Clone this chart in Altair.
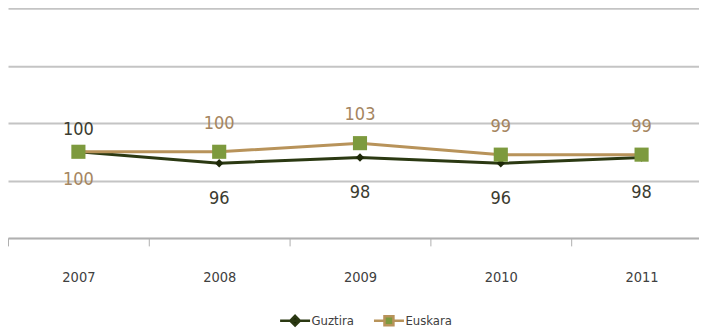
import altair as alt
import pandas as pd

years = ["2007", "2008", "2009", "2010", "2011"]
guztira = [100, 96, 98, 96, 98]
euskara = [100, 100, 103, 99, 99]
guztira_label_pos = ["above", "below", "below", "below", "below"]
euskara_label_pos = ["below", "above", "above", "above", "above"]
series_names = ["Guztira", "Euskara"]

rows = []
for i, y in enumerate(years):
    rows.append({"year": y, "series": "Guztira", "value": guztira[i], "pos": guztira_label_pos[i], "order": 0})
    rows.append({"year": y, "series": "Euskara", "value": euskara[i], "pos": euskara_label_pos[i], "order": 1})
df = pd.DataFrame(rows)

LINE_DARK = "#2b3912"
LINE_TAN = "#b8935a"
MARK_DARK = "#1d2808"
MARK_GREEN = "#7d9a3e"
LABEL_DARK = "#3c3c30"
LABEL_TAN = "#a58560"
FONT = "Liberation Sans Narrow, DejaVu Sans Condensed, sans-serif"

x_enc = alt.X(
    "year:O",
    bandPosition=0.5,
    scale=alt.Scale(type="band", paddingInner=0, paddingOuter=0),
    axis=alt.Axis(
        title=None, labelAngle=0, tickBand="extent", tickSize=8, tickColor="#b0b0b0",
        domainColor="#b0b0b0", domainWidth=1.5, labelPadding=25, labelFont=FONT,
        labelFontSize=14.5, labelColor="#404040", grid=False,
    ),
)
y_scale = alt.Scale(domain=[70, 150], nice=False, zero=False)
y_enc = alt.Y(
    "value:Q",
    scale=y_scale,
    axis=alt.Axis(title=None, labels=False, ticks=False, domain=False, grid=True,
                  values=[70, 90, 110, 130, 150], gridColor="#c4c4c4", gridWidth=2),
)
y_plain = alt.Y("value:Q", scale=y_scale)

g_path = "M-1.875,0L1.875,0M0,-0.6L0.6,0L0,0.6L-0.6,0Z"
e_path = "M-1.875,0L-0.56,0M0.56,0L1.875,0M-0.56,-0.56L0.56,-0.56L0.56,0.56L-0.56,0.56Z"

legend = alt.Legend(
    orient="none", legendX=278, legendY=303, title=None, direction="horizontal",
    labelFont=FONT, labelFontSize=13, labelColor="#404040", symbolSize=256,
    symbolStrokeWidth=2.5, columnPadding=14, labelOffset=7, symbolOpacity=1,
)

base = alt.Chart(df)

g_line = base.transform_filter(alt.datum.series == "Guztira").mark_line(
    strokeWidth=3, color=LINE_DARK
).encode(x=x_enc, y=y_enc)

e_line = base.transform_filter(alt.datum.series == "Euskara").mark_line(
    strokeWidth=3, color=LINE_TAN
).encode(x=x_enc, y=y_plain)

# legend-only layer: tiny symbols hidden under the markers
legend_layer = base.mark_point(
    filled=True, size=1, strokeWidth=0.01, opacity=1
).encode(
    x=x_enc, y=y_plain,
    shape=alt.Shape("series:N", scale=alt.Scale(domain=series_names, range=[g_path, e_path]),
                    legend=legend, sort=series_names),
    fill=alt.Fill("series:N", scale=alt.Scale(domain=series_names, range=[MARK_DARK, MARK_GREEN]),
                  legend=legend, sort=series_names),
    stroke=alt.Stroke("series:N", scale=alt.Scale(domain=series_names, range=[LINE_DARK, LINE_TAN]),
                      legend=legend, sort=series_names),
)

g_marks = base.transform_filter(alt.datum.series == "Guztira").mark_point(
    shape="diamond", filled=True, size=70, color=MARK_DARK, opacity=1
).encode(x=x_enc, y=y_plain)

e_marks = base.transform_filter(alt.datum.series == "Euskara").mark_point(
    shape="square", filled=True, size=200, color=MARK_GREEN, opacity=1
).encode(x=x_enc, y=y_plain)

def labels(series, pos, dy, color):
    return base.transform_filter(
        (alt.datum.series == series) & (alt.datum.pos == pos)
    ).mark_text(font=FONT, fontSize=18, dy=dy, color=color, baseline="middle").encode(
        x=x_enc, y=y_plain, text="value:Q"
    )

chart = alt.layer(
    g_line, e_line, legend_layer, g_marks, e_marks,
    labels("Guztira", "above", -22, LABEL_DARK),
    labels("Guztira", "below", 36, LABEL_DARK),
    labels("Euskara", "above", -28, LABEL_TAN),
    labels("Euskara", "below", 28, LABEL_TAN),
).properties(
    width=705, height=230,
    padding={"left": -1, "top": 0, "right": -14, "bottom": -2},
).configure_view(stroke=None)

chart.save("out.html", embed_options={"renderer": "svg", "actions": False})
